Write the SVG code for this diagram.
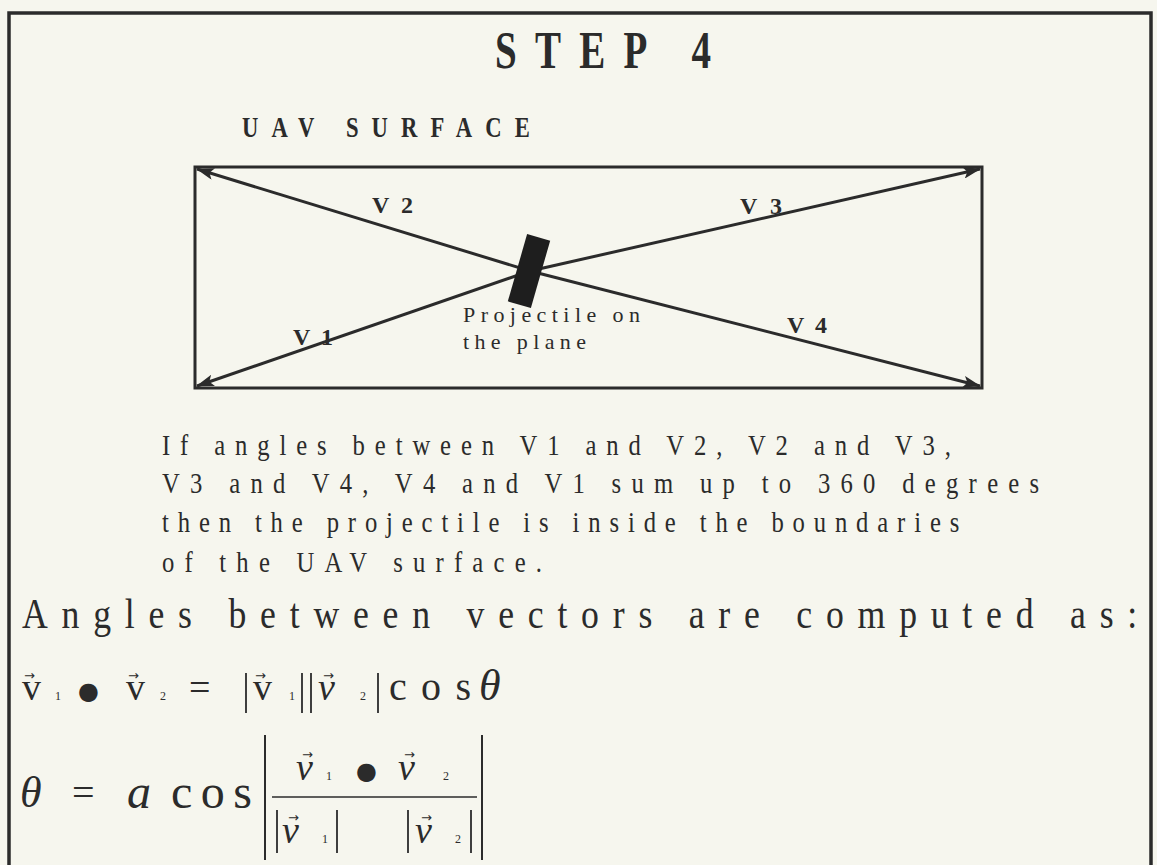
<svg xmlns="http://www.w3.org/2000/svg" width="1157" height="865" viewBox="0 0 1157 865">
<style>
  .t { font-family: "Liberation Serif", "Times New Roman", serif; fill: #2b2b2b; }
  .b { font-weight: bold; }
  .i { font-style: italic; }
  .ln { stroke: #2b2b2b; fill: none; }
  .ar { font-family: "DejaVu Sans", sans-serif; fill: #2b2b2b; font-size: 13px; }
  .dot { font-family: "DejaVu Sans", sans-serif; fill: #2b2b2b; }
</style>
<defs>
  <marker id="ah" markerUnits="userSpaceOnUse" markerWidth="18" markerHeight="12" refX="17" refY="6" orient="auto">
    <path d="M0,0 L18,6 L0,12 L4,6 z" fill="#2b2b2b"/>
  </marker>
</defs>
<rect width="1157" height="865" fill="#f6f6ee"/>
<path class="ln" d="M9,865 V13 H1151 V865" stroke-width="3.5"/>

<g id="title">
  <text class="t b" x="660" y="68" font-size="52" transform="scale(0.75,1)" textLength="288" lengthAdjust="spacing">STEP 4</text>
</g>
<g id="uav-label">
  <text class="t b" x="310.3" y="137" font-size="29" transform="scale(0.78,1)" textLength="369" lengthAdjust="spacing">UAV SURFACE</text>
</g>

<g id="surface">
  <rect class="ln" x="195" y="167" width="787" height="221" stroke-width="3"/>
</g>

<g id="connectors">
  <line class="ln" x1="530" y1="271" x2="197" y2="169" stroke-width="3" marker-end="url(#ah)"/>
  <line class="ln" x1="530" y1="271" x2="980" y2="169" stroke-width="3" marker-end="url(#ah)"/>
  <line class="ln" x1="530" y1="271" x2="197" y2="386" stroke-width="3" marker-end="url(#ah)"/>
  <line class="ln" x1="530" y1="271" x2="980" y2="386" stroke-width="3" marker-end="url(#ah)"/>
</g>

<g id="projectile">
  <rect x="517" y="236" width="24" height="70" fill="#1e1e1e" transform="rotate(16 529 271)"/>
  <text class="t" x="463" y="322" font-size="22" textLength="177" lengthAdjust="spacing">Projectile on</text>
  <text class="t" x="463" y="349" font-size="22" textLength="123" lengthAdjust="spacing">the plane</text>
</g>

<g id="vector-labels">
  <text class="t b" x="372" y="213" font-size="24" textLength="41" lengthAdjust="spacing">V2</text>
  <text class="t b" x="740" y="214" font-size="24" textLength="42" lengthAdjust="spacing">V3</text>
  <text class="t b" x="293" y="345" font-size="24" textLength="40" lengthAdjust="spacing">V1</text>
  <text class="t b" x="787" y="333" font-size="24" textLength="40" lengthAdjust="spacing">V4</text>
</g>

<g id="explanation" transform="scale(0.85,1)">
  <text class="t" x="190.6" y="455" font-size="29" textLength="928" lengthAdjust="spacing">If angles between V1 and V2, V2 and V3,</text>
  <text class="t" x="190.6" y="493" font-size="29" textLength="1032" lengthAdjust="spacing">V3 and V4, V4 and V1 sum up to 360 degrees</text>
  <text class="t" x="190.6" y="532" font-size="29" textLength="938" lengthAdjust="spacing">then the projectile is inside the boundaries</text>
  <text class="t" x="190.6" y="572" font-size="29" textLength="447" lengthAdjust="spacing">of the UAV surface.</text>
  <text class="t" x="25.9" y="628" font-size="42" textLength="1312" lengthAdjust="spacing">Angles between vectors are computed as:</text>
</g>

<g id="formula-1">
  <text class="t" x="22" y="700" font-size="38">v</text>
  <text class="ar" x="24" y="680">→</text>
  <text class="t" x="55" y="700" font-size="12">1</text>
  <text class="dot" x="78" y="699" font-size="24">●</text>
  <text class="t" x="126" y="700" font-size="38">v</text>
  <text class="ar" x="128" y="680">→</text>
  <text class="t" x="160" y="700" font-size="12">2</text>
  <text class="t" x="189" y="700" font-size="38">=</text>
  <line class="ln" x1="246" y1="673" x2="246" y2="713" stroke-width="1.8"/>
  <text class="t" x="253" y="700" font-size="38">v</text>
  <text class="ar" x="255" y="680">→</text>
  <text class="t" x="289" y="700" font-size="12">1</text>
  <line class="ln" x1="302" y1="673" x2="302" y2="713" stroke-width="1.8"/>
  <line class="ln" x1="311" y1="673" x2="311" y2="713" stroke-width="1.8"/>
  <text class="t i" x="318" y="700" font-size="38">v</text>
  <text class="ar" x="323" y="680">→</text>
  <text class="t" x="360" y="700" font-size="12">2</text>
  <line class="ln" x1="378" y1="673" x2="378" y2="713" stroke-width="1.8"/>
  <text class="t" x="389" y="700" font-size="40" textLength="82" lengthAdjust="spacing">cos</text>
  <text class="t i" x="479" y="700" font-size="44">θ</text>
</g>

<g id="formula-2">
  <text class="t i" x="20" y="807" font-size="44">θ</text>
  <text class="t" x="72" y="806" font-size="40">=</text>
  <text class="t i" x="127" y="808" font-size="48">a</text>
  <text class="t" x="171" y="808" font-size="48" textLength="81" lengthAdjust="spacing">cos</text>
  <line class="ln" x1="265" y1="735" x2="265" y2="860" stroke-width="2"/>
  <line class="ln" x1="482" y1="735" x2="482" y2="860" stroke-width="2"/>
  <line class="ln" x1="272" y1="797" x2="477" y2="797" stroke-width="1.5"/>
  <text class="t i" x="296" y="780" font-size="38">v</text>
  <text class="ar" x="302" y="759">→</text>
  <text class="t" x="326" y="780" font-size="12">1</text>
  <text class="dot" x="356" y="779" font-size="24">●</text>
  <text class="t i" x="398" y="780" font-size="38">v</text>
  <text class="ar" x="404" y="759">→</text>
  <text class="t" x="443" y="780" font-size="12">2</text>
  <line class="ln" x1="277" y1="810" x2="277" y2="853" stroke-width="1.8"/>
  <text class="t i" x="282" y="843" font-size="38">v</text>
  <text class="ar" x="288" y="822">→</text>
  <text class="t" x="322" y="843" font-size="12">1</text>
  <line class="ln" x1="337" y1="810" x2="337" y2="853" stroke-width="1.8"/>
  <line class="ln" x1="408" y1="810" x2="408" y2="853" stroke-width="1.8"/>
  <text class="t i" x="415" y="843" font-size="38">v</text>
  <text class="ar" x="421" y="822">→</text>
  <text class="t" x="455" y="843" font-size="12">2</text>
  <line class="ln" x1="471" y1="810" x2="471" y2="853" stroke-width="1.8"/>
</g>
</svg>
